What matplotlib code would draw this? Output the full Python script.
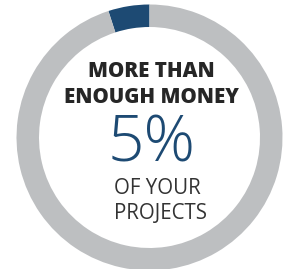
import matplotlib
matplotlib.use("Agg")
import matplotlib.pyplot as plt

# Data
labels = ["More than enough money", "Other"]
values = [5, 95]
headline = "MORE THAN\nENOUGH MONEY"
value_label = "5%"
subline = ["OF YOUR", "PROJECTS"]

colors = ["#1d4a73", "#bdbfc1"]

W, H = 285, 269
fig = plt.figure(figsize=(W / 100, H / 100), dpi=100)
ax = fig.add_axes([0, 0, 1, 1])

cx, cy = 149.5, H - 137.5
R = 133
ring = 22.5
ax.pie(values, colors=colors, startangle=90, counterclock=True,
       center=(cx, cy), radius=R, frame=True,
       wedgeprops=dict(width=ring, linewidth=0))
ax.set_xlim(0, W)
ax.set_ylim(0, H)
ax.axis("off")

fam = ["Open Sans", "DejaVu Sans"]
ax.text(cx + 1.5, H - 84.5, headline, ha="center", va="center", fontsize=14.8,
        fontweight="heavy", family=fam, color="#262626", linespacing=1.3)
ax.text(cx + 2, H - 145, value_label, ha="center", va="center", fontsize=46,
        fontweight="light", family=fam, color="#1d4a73")
for i, line in enumerate(subline):
    ax.text(114, H - 188.5 - 25 * i, line, ha="left", va="center", fontsize=14.8,
            fontweight="normal", family=fam, color="#333333")

fig.savefig("out.png", dpi=100)
